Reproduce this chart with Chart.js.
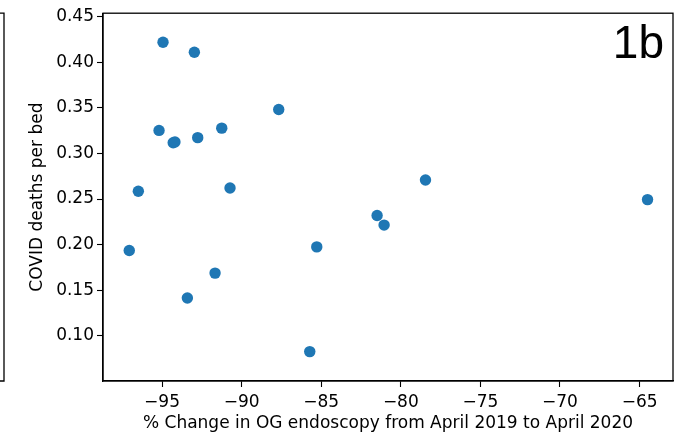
<!DOCTYPE html>
<html>
<head>
<meta charset="utf-8">
<script src="https://cdn.jsdelivr.net/npm/chart.js@4/dist/chart.umd.min.js"></script>
<style>
  html, body { margin: 0; padding: 0; background: #ffffff; }
  #wrap { width: 682px; height: 434px; position: relative; }
</style>
</head>
<body>
<div id="wrap"><canvas id="c" width="682" height="434"></canvas></div>
<script>
// ---- data ----
const xValues = [-94.94, -92.97, -87.67, -95.19, -94.30, -94.19, -92.76, -91.25, -96.49, -90.73,
                 -81.49, -81.05, -97.06, -85.28, -91.67, -93.41, -85.72, -78.45, -64.50];
const yValues = [0.4217, 0.4108, 0.3481, 0.3252, 0.3117, 0.3126, 0.3173, 0.3277, 0.2585, 0.2621,
                 0.2320, 0.2215, 0.1936, 0.1976, 0.1689, 0.1416, 0.0829, 0.2708, 0.2494];
const xTicks = [-95, -90, -85, -80, -75, -70, -65];
const yTicks = [0.10, 0.15, 0.20, 0.25, 0.30, 0.35, 0.40, 0.45];
const xTitle = '% Change in OG endoscopy from April 2019 to April 2020';
const yTitle = 'COVID deaths per bed';
const panelLabel = '1b';

const points = xValues.map((x, i) => ({ x: x, y: yValues[i] }));
const FONT = "'DejaVu Sans', sans-serif";

const framePlugin = {
  id: 'frame',
  afterDraw(chart) {
    const { ctx, chartArea: a } = chart;
    ctx.save();
    ctx.strokeStyle = '#000000';
    ctx.lineWidth = 1.3;
    ctx.strokeRect(a.left, a.top, a.right - a.left, a.bottom - a.top);
    // right edge of the neighbouring panel (1a), cut off at the left
    ctx.beginPath();
    ctx.moveTo(0, a.top);
    ctx.lineTo(4, a.top);
    ctx.lineTo(4, a.bottom);
    ctx.lineTo(0, a.bottom);
    ctx.stroke();
    // panel label
    ctx.fillStyle = '#000000';
    ctx.font = "46px 'Liberation Sans', Arial, sans-serif";
    ctx.textAlign = 'right';
    ctx.textBaseline = 'alphabetic';
    ctx.fillText(panelLabel, 664, 58);
    ctx.restore();
  }
};

const minus = v => (v < 0 ? '\u2212' + Math.abs(v) : String(v));

new Chart(document.getElementById('c'), {
  type: 'scatter',
  data: {
    datasets: [{
      data: points,
      backgroundColor: '#1f77b4',
      borderWidth: 0,
      pointRadius: 5.7,
      pointHoverRadius: 5.7
    }]
  },
  options: {
    responsive: false,
    animation: false,
    events: [],
    layout: { padding: { left: 0, right: 9, top: 11, bottom: 0 } },
    plugins: { legend: { display: false }, tooltip: { enabled: false } },
    scales: {
      x: {
        type: 'linear',
        min: -98.71,
        max: -62.90,
        afterFit: s => { s.height = 53; },
        afterBuildTicks: s => { s.ticks = xTicks.map(v => ({ value: v })); },
        grid: { display: true, drawOnChartArea: false, drawTicks: true, tickLength: 6, tickColor: '#000000', tickWidth: 1.1 },
        border: { display: true, color: '#000000', width: 1.3 },
        ticks: {
          color: '#000000', padding: 5, maxRotation: 0, autoSkip: false,
          font: { family: FONT, size: 17 },
          callback: v => minus(v)
        },
        title: {
          display: true, text: xTitle, color: '#000000',
          font: { family: FONT, size: 17 },
          padding: { top: 0, bottom: 0 }
        }
      },
      y: {
        type: 'linear',
        min: 0.0507,
        max: 0.4536,
        afterFit: s => { s.width = 103; },
        afterBuildTicks: s => { s.ticks = yTicks.map(v => ({ value: v })); },
        grid: { display: true, drawOnChartArea: false, drawTicks: true, tickLength: 6, tickColor: '#000000', tickWidth: 1.1 },
        border: { display: true, color: '#000000', width: 1.3 },
        ticks: {
          color: '#000000', padding: 3, autoSkip: false,
          font: { family: FONT, size: 17 },
          callback: v => v.toFixed(2)
        },
        title: {
          display: true, text: yTitle, color: '#000000',
          font: { family: FONT, size: 17 },
          padding: { top: 27, bottom: 0 }
        }
      }
    }
  },
  plugins: [framePlugin]
});
</script>
</body>
</html>
